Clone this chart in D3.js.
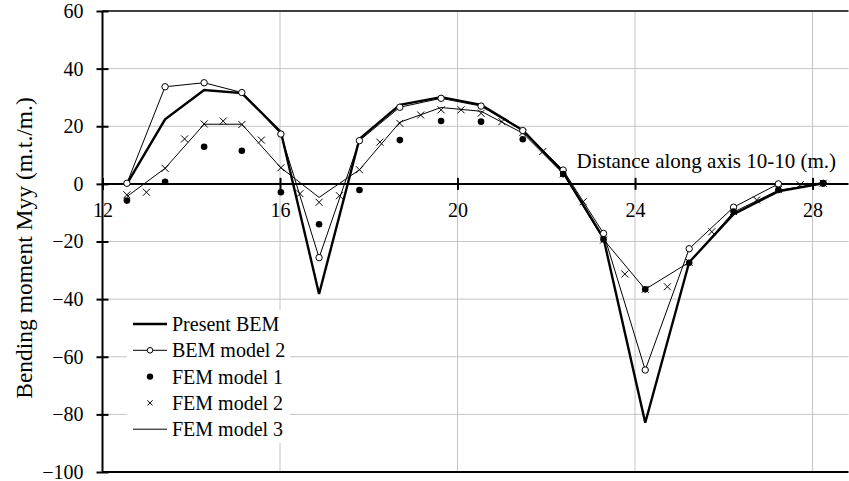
<!DOCTYPE html>
<html>
<head>
<meta charset="utf-8">
<script src="https://cdn.jsdelivr.net/npm/d3@7"></script>
<style>
  body { margin: 0; background: #fff; }
  svg { display: block; }
  text { font-family: "Liberation Serif", "Times New Roman", serif; fill: #000; }
</style>
</head>
<body>
<svg id="chart" width="849" height="481"></svg>
<script>
// Stations along axis 10-10 (m.) shared by the BEM and coarse FEM results
const nodes = [12.55, 13.41, 14.29, 15.14, 16.02, 16.88, 17.79, 18.70, 19.63, 20.53, 21.47, 22.38, 23.29, 24.23, 25.22, 26.22, 27.23, 28.24];

// Bending moment Myy (m.t./m.)
const presentBEM = [0, 22.4, 32.6, 31.5, 18.0, -38.2, 15.6, 27.4, 30.1, 27.4, 18.6, 4.0, -18.9, -82.9, -27.2, -10.5, -2.6, 0.2];
const bemModel2  = [0.2, 33.7, 35.1, 31.7, 17.3, -25.6, 15.0, 26.6, 29.7, 27.0, 18.5, 4.8, -17.2, -64.6, -22.5, -8.1, 0.0, 0.2];
const femModel1  = [-5.8, 0.7, 12.9, 11.5, -2.9, -14.0, -2.1, 15.2, 21.8, 21.6, 15.5, 3.4, -19.2, -36.6, -27.4, -9.6, -2.1, 0.2];
const femModel3  = [-4.4, 5.4, 20.7, 20.7, 5.6, -4.7, 4.9, 21.4, 26.5, 25.2, 17.6, 3.6, -19.3, -36.6, -27.2, -9.8, -2.2, 0.2];

// FEM model 2 uses a finer mesh (mid-side stations included)
const fem2Nodes = [12.55, 12.99, 13.41, 13.85, 14.29, 14.72, 15.14, 15.58, 16.02, 16.45, 16.88, 17.34, 17.79, 18.25, 18.70, 19.17, 19.63, 20.08, 20.53, 21.00, 21.47, 21.92, 22.38, 22.83, 23.29, 23.77, 24.23, 24.73, 25.22, 25.73, 26.22, 26.74, 27.23, 27.72, 28.24];
const femModel2 = [-3.8, -2.9, 5.4, 15.6, 20.8, 21.8, 20.6, 15.2, 5.6, -3.4, -6.4, -4.1, 4.9, 14.5, 21.0, 23.9, 25.7, 25.7, 24.5, 21.6, 17.8, 11.2, 3.5, -6.2, -19.5, -31.3, -36.6, -35.7, -27.2, -16.6, -9.6, -5.6, -2.0, -0.3, 0.2];

const xTicks = [12, 16, 20, 24, 28];
const xGrid = [16, 20, 24, 28];
const yTicks = [60, 40, 20, 0, -20, -40, -60, -80, -100];
const yGrid = [40, 20, -20, -40, -60, -80];

const legendItems = ["Present BEM", "BEM model 2", "FEM model 1", "FEM model 2", "FEM model 3"];

const svg = d3.select("#chart");
const x = d3.scaleLinear().domain([12, 28.81]).range([102.5, 848.5]);
const y = d3.scaleLinear().domain([-100, 60]).range([472, 11]);

// grid
svg.append("g").selectAll("line").data(yGrid).join("line")
  .attr("x1", x.range()[0]).attr("x2", x.range()[1])
  .attr("y1", d => y(d)).attr("y2", d => y(d))
  .attr("stroke", "#c4c4c4").attr("stroke-width", 1);
svg.append("g").selectAll("line").data(xGrid).join("line")
  .attr("x1", d => x(d)).attr("x2", d => x(d))
  .attr("y1", y(60)).attr("y2", y(-100))
  .attr("stroke", "#c4c4c4").attr("stroke-width", 1);

// frame lines
svg.append("line").attr("x1", x.range()[0]).attr("x2", x.range()[1])
  .attr("y1", y(60)).attr("y2", y(60)).attr("stroke", "#000").attr("stroke-width", 1.5);
svg.append("line").attr("x1", x.range()[0]).attr("x2", x.range()[1])
  .attr("y1", y(-100)).attr("y2", y(-100)).attr("stroke", "#000").attr("stroke-width", 2);
svg.append("line").attr("x1", x(12)).attr("x2", x(12))
  .attr("y1", y(60)).attr("y2", y(-100)).attr("stroke", "#000").attr("stroke-width", 2);

// legend panel
const lg = svg.append("g").attr("transform", "translate(127,310)");
lg.append("rect").attr("width", 163).attr("height", 133).attr("fill", "#fff");

// y axis
const yAxis = svg.append("g").attr("transform", `translate(${x(12)},0)`)
  .call(d3.axisLeft(y).tickValues(yTicks).tickSize(6).tickPadding(13));
yAxis.select(".domain").remove();
yAxis.selectAll(".tick line").attr("x1", -6).attr("x2", 6).attr("stroke", "#000").attr("stroke-width", 2);
yAxis.selectAll(".tick text").attr("font-size", 20).attr("font-family", "Liberation Serif");

// x axis through zero
svg.append("line").attr("x1", x.range()[0]).attr("x2", x.range()[1])
  .attr("y1", y(0)).attr("y2", y(0)).attr("stroke", "#000").attr("stroke-width", 2);
const xAxis = svg.append("g").attr("transform", `translate(0,${y(0)})`)
  .call(d3.axisBottom(x).tickValues(xTicks).tickSize(6).tickPadding(13));
xAxis.select(".domain").remove();
xAxis.selectAll(".tick line").attr("y1", -6).attr("y2", 6).attr("stroke", "#000").attr("stroke-width", 2);
xAxis.selectAll(".tick text").attr("font-size", 20).attr("font-family", "Liberation Serif");

// titles
svg.append("text").attr("x", 836).attr("y", 168).attr("text-anchor", "end")
  .attr("font-size", 21).text("Distance along axis 10-10 (m.)");
svg.append("text").attr("transform", "translate(32,248) rotate(-90)").attr("text-anchor", "middle")
  .attr("font-size", 23.5).text("Bending moment Myy (m.t./m.)");

// series
const line = (xs, ys) => d3.line().x((d, i) => x(xs[i])).y(d => y(d))(ys);

svg.append("path").attr("d", line(nodes, femModel3))
  .attr("fill", "none").attr("stroke", "#000").attr("stroke-width", 1);
svg.append("path").attr("d", line(nodes, presentBEM))
  .attr("fill", "none").attr("stroke", "#000").attr("stroke-width", 2.4).attr("stroke-linejoin", "miter");
svg.append("path").attr("d", line(nodes, bemModel2))
  .attr("fill", "none").attr("stroke", "#000").attr("stroke-width", 1);

function cross(g, cx, cy, s) {
  g.append("path").attr("d", `M${cx - s},${cy - s}L${cx + s},${cy + s}M${cx - s},${cy + s}L${cx + s},${cy - s}`)
    .attr("stroke", "#000").attr("stroke-width", 1).attr("fill", "none");
}
const crosses = svg.append("g");
femModel2.forEach((v, i) => cross(crosses, x(fem2Nodes[i]), y(v), 3.5));

svg.append("g").selectAll("circle").data(bemModel2).join("circle")
  .attr("cx", (d, i) => x(nodes[i])).attr("cy", d => y(d)).attr("r", 3.2)
  .attr("fill", "#fff").attr("stroke", "#000").attr("stroke-width", 1);

svg.append("g").selectAll("circle").data(femModel1).join("circle")
  .attr("cx", (d, i) => x(nodes[i])).attr("cy", d => y(d)).attr("r", 3.3).attr("fill", "#000");

// legend entries
const rowY = i => 14 + i * 26.3;
legendItems.forEach((label, i) => {
  const cy = rowY(i);
  if (i === 0) lg.append("line").attr("x1", 6).attr("x2", 40).attr("y1", cy).attr("y2", cy).attr("stroke", "#000").attr("stroke-width", 2.4);
  if (i === 1) {
    lg.append("line").attr("x1", 6).attr("x2", 40).attr("y1", cy).attr("y2", cy).attr("stroke", "#000").attr("stroke-width", 1);
    lg.append("circle").attr("cx", 23).attr("cy", cy).attr("r", 2.8).attr("fill", "#fff").attr("stroke", "#000");
  }
  if (i === 2) lg.append("circle").attr("cx", 23).attr("cy", cy).attr("r", 3.2).attr("fill", "#000");
  if (i === 3) cross(lg, 23, cy, 2.6);
  if (i === 4) lg.append("line").attr("x1", 6).attr("x2", 40).attr("y1", cy).attr("y2", cy).attr("stroke", "#000").attr("stroke-width", 1);
  lg.append("text").attr("x", 45).attr("y", cy + 7).attr("font-size", 20).text(label);
});
</script>
</body>
</html>
